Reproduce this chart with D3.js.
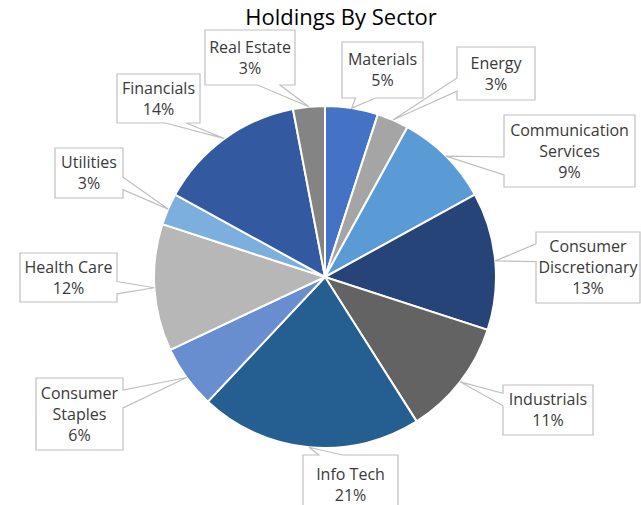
<!DOCTYPE html>
<meta charset="utf-8">
<style>
	body { margin: 0; background: #fff; }
	svg { display: block; font-family: "Open Sans", sans-serif; }
	.lbl text { fill: #3a3a3a; font-size: 16px; }
	.lbl path { fill: #fff; stroke: #bfbfbf; stroke-width: 1.2px; }
</style>
<svg width="641" height="505"></svg>
<script src="https://d3js.org/d3.v7.min.js"></script>
<script>
	// sectors, clockwise from 12 o'clock
	var sectors = ['Materials', 'Energy', 'Communication Services', 'Consumer Discretionary', 'Industrials',
		'Info Tech', 'Consumer Staples', 'Health Care', 'Utilities', 'Financials', 'Real Estate']
	var weights = [5, 3, 9, 13, 11, 21, 6, 12, 3, 14, 3]
	var labelLines = [['Materials'], ['Energy'], ['Communication', 'Services'], ['Consumer', 'Discretionary'],
		['Industrials'], ['Info Tech'], ['Consumer', 'Staples'], ['Health Care'], ['Utilities'], ['Financials'], ['Real Estate']]
	var colors = ['#4472c4', '#a5a5a5', '#5b9bd5', '#264478', '#636363', '#255e91', '#698ed0', '#b7b7b7', '#7cafdd', '#335aa1', '#848484']

	// callout boxes [x, y, w, h]
	var boxes = [
		[342, 42, 81, 56], [457, 47, 78, 53], [504, 115, 131, 72], [536, 232, 104, 71], [503, 385, 90, 50],
		[303, 455, 95, 60], [36, 378, 87, 72], [20, 253, 97, 49], [55, 148, 68, 50], [117, 74, 83, 49], [205, 30, 90, 55]
	]

	var svg = d3.select('svg'),
		cx = 325, cy = 277, r = 171

	svg.append('text')
		.attr('x', 341).attr('y', 25)
		.attr('text-anchor', 'middle')
		.style('font-size', '22px')
		.style('fill', '#000')
		.text('Holdings By Sector')

	var data = sectors.map(function (s, i) {
		return { name: s, value: weights[i], lines: labelLines[i].concat([weights[i] + '%']), color: colors[i], box: boxes[i] }
	})

	var pie = d3.pie().sort(null).value(function (d) { return d.value })
	var arcs = pie(data)
	var arc = d3.arc().innerRadius(0).outerRadius(r)

	var g = svg.append('g').attr('transform', 'translate(' + cx + ',' + cy + ')')
	g.selectAll('.slice')
		.data(arcs)
		.enter().append('path')
		.attr('class', 'slice')
		.attr('d', arc)
		.attr('fill', function (d) { return d.data.color })
		.attr('stroke', '#fff')
		.attr('stroke-width', 2)

	// wedge rectangle callout, same rule as the office shape
	function callout(b, tx, ty) {
		var l = b[0], t = b[1], w = b[2], h = b[3], rr = l + w, bb = t + h
		var dxPos = tx - (l + w / 2), dyPos = ty - (t + h / 2)
		var horiz = Math.abs(dxPos * h) > Math.abs(dyPos * w)
		var x1 = l + w * (dxPos > 0 ? 7 : 2) / 12, x2 = l + w * (dxPos > 0 ? 10 : 5) / 12
		var y1 = t + h * (dyPos > 0 ? 7 : 2) / 12, y2 = t + h * (dyPos > 0 ? 10 : 5) / 12
		var p = d3.path()
		p.moveTo(l, t)
		if (!horiz && dyPos < 0) { p.lineTo(x1, t); p.lineTo(tx, ty); p.lineTo(x2, t) }
		p.lineTo(rr, t)
		if (horiz && dxPos > 0) { p.lineTo(rr, y1); p.lineTo(tx, ty); p.lineTo(rr, y2) }
		p.lineTo(rr, bb)
		if (!horiz && dyPos > 0) { p.lineTo(x2, bb); p.lineTo(tx, ty); p.lineTo(x1, bb) }
		p.lineTo(l, bb)
		if (horiz && dxPos < 0) { p.lineTo(l, y2); p.lineTo(tx, ty); p.lineTo(l, y1) }
		p.closePath()
		return p.toString()
	}

	var lbl = svg.selectAll('.lbl')
		.data(arcs)
		.enter().append('g')
		.attr('class', 'lbl')

	lbl.append('path')
		.attr('d', function (d) {
			var a = (d.startAngle + d.endAngle) / 2
			return callout(d.data.box, cx + r * Math.sin(a), cy - r * Math.cos(a))
		})

	lbl.each(function (d) {
		var b = d.data.box, n = d.data.lines.length
		var y0 = b[1] + b[3] / 2 - (n - 1) * 21 / 2 + 5.5
		d3.select(this).selectAll('text')
			.data(d.data.lines)
			.enter().append('text')
			.attr('x', b[0] + b[2] / 2)
			.attr('y', function (t, i) { return y0 + i * 21 })
			.attr('text-anchor', 'middle')
			.text(function (t) { return t })
	})
</script>
